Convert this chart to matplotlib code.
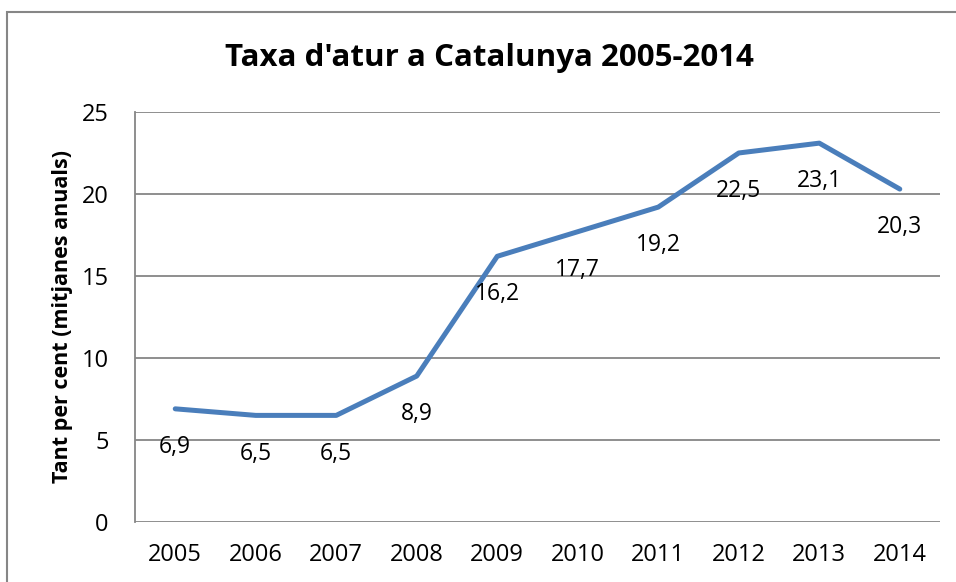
import matplotlib.pyplot as plt
from matplotlib.patches import Rectangle

years = ['2005', '2006', '2007', '2008', '2009', '2010', '2011', '2012', '2013', '2014']
taxa = [6.9, 6.5, 6.5, 8.9, 16.2, 17.7, 19.2, 22.5, 23.1, 20.3]

plt.rcParams['font.family'] = ['Open Sans', 'DejaVu Sans']

fig = plt.figure(figsize=(9.56, 5.82), dpi=100)
ax = fig.add_axes([0.1412, 0.1031, 0.8421, 0.7045])

x = range(len(years))
ax.plot(x, taxa, color='#4A7EBB', lw=3.6, solid_capstyle='round', solid_joinstyle='round', zorder=3)

for xi, v in zip(x, taxa):
    ax.annotate(('%.1f' % v).replace('.', ','), (xi, v), xytext=(0, -27.5),
                textcoords='offset points', ha='center', va='center', fontsize=16.5, color='black')

ax.set_xlim(-0.5, len(years) - 0.5)
ax.set_ylim(0, 25)
ax.set_yticks([0, 5, 10, 15, 20, 25])
ax.set_xticks(list(x))
ax.set_xticklabels(years)
ax.tick_params(axis='both', length=0, labelsize=17)
ax.tick_params(axis='y', pad=19)
ax.tick_params(axis='x', pad=15)
ax.grid(axis='y', color='#868686', lw=1.3)
ax.set_axisbelow(True)
for s in ['top', 'right', 'bottom']:
    ax.spines[s].set_visible(False)
ax.spines['left'].set_color('#868686')
ax.spines['left'].set_linewidth(1.3)

ax.set_ylabel('Tant per cent (mitjanes anuals)', fontsize=15.5, fontweight='bold')
ax.yaxis.set_label_coords(-0.077, 0.502)
fig.text(0.512, 0.900, "Taxa d'atur a Catalunya 2005-2014", ha='center', va='center',
         fontsize=22.5, fontweight='bold')

fig.patches.append(Rectangle((0.0073, -0.1), 1.2, 1.0794, transform=fig.transFigure,
                             fill=False, edgecolor='#868686', lw=1.5))

plt.savefig('out.png', dpi=100)
